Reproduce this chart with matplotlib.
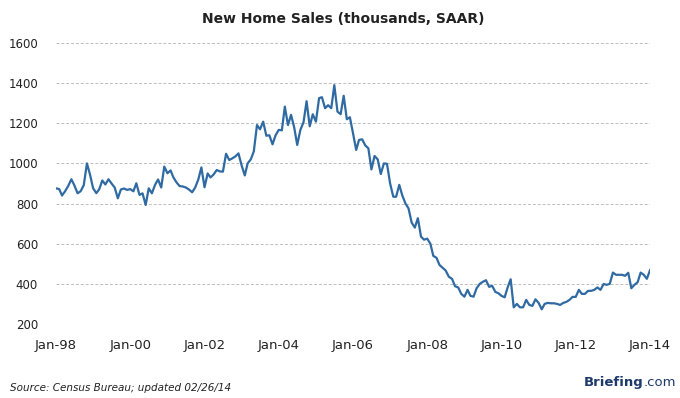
import numpy as np
import pandas as pd
import matplotlib
matplotlib.use('Agg')
import matplotlib.pyplot as plt

# new home sales, thousands SAAR, Jan-98 .. Jan-14
sales_1998 = [876, 872, 840, 862, 888, 921, 890, 851, 862, 892, 1000, 945]
sales_1999 = [876, 852, 870, 915, 895, 921, 900, 880, 826, 870, 875, 868]
sales_2000 = [872, 861, 901, 843, 851, 793, 876, 851, 893, 920, 880, 984]
sales_2001 = [951, 965, 930, 905, 887, 885, 880, 870, 856, 880, 920, 980]
sales_2002 = [881, 950, 930, 945, 967, 960, 959, 1048, 1017, 1025, 1035, 1050]
sales_2003 = [990, 940, 1000, 1020, 1060, 1191, 1170, 1208, 1138, 1140, 1095, 1140]
sales_2004 = [1167, 1165, 1283, 1191, 1242, 1180, 1092, 1167, 1205, 1310, 1185, 1245]
sales_2005 = [1208, 1325, 1330, 1275, 1290, 1275, 1390, 1258, 1245, 1337, 1220, 1230]
sales_2006 = [1150, 1067, 1117, 1120, 1090, 1075, 970, 1037, 1020, 947, 1000, 998]
sales_2007 = [900, 834, 834, 893, 840, 800, 776, 705, 680, 727, 635, 620]
sales_2008 = [625, 600, 539, 530, 494, 480, 466, 435, 425, 388, 382, 350]
sales_2009 = [336, 370, 340, 336, 378, 400, 410, 418, 385, 390, 360, 353]
sales_2010 = [340, 333, 380, 423, 283, 300, 283, 283, 320, 295, 290, 323]
sales_2011 = [305, 273, 300, 305, 303, 303, 300, 295, 305, 310, 320, 335]
sales_2012 = [335, 370, 350, 350, 365, 365, 370, 382, 370, 399, 395, 400]
sales_2013 = [456, 445, 445, 445, 440, 455, 378, 395, 408, 456, 445, 425]
sales_2014 = [468]

sales = (sales_1998 + sales_1999 + sales_2000 + sales_2001 + sales_2002 + sales_2003
         + sales_2004 + sales_2005 + sales_2006 + sales_2007 + sales_2008 + sales_2009
         + sales_2010 + sales_2011 + sales_2012 + sales_2013 + sales_2014)
months = pd.date_range('1998-01-01', periods=len(sales), freq='MS')

tick_dates = pd.date_range('1998-01-01', '2014-01-01', freq='24MS')
tick_labels = ['Jan-98', 'Jan-00', 'Jan-02', 'Jan-04', 'Jan-06', 'Jan-08', 'Jan-10', 'Jan-12', 'Jan-14']
y_ticks = [200, 400, 600, 800, 1000, 1200, 1400, 1600]

line_color = '#2f6aa3'
text_color = '#222222'
logo_color = '#1d3a6b'


def main():
    fig = plt.figure(figsize=(6.8, 3.98), dpi=100)
    ax = fig.add_axes([0.0824, 0.186, 0.8735, 0.706])

    for y in y_ticks:
        ax.axhline(y, color='#bdbdbd', lw=0.7, ls=(0, (3, 2)), zorder=1)
    ax.plot(months, sales, color=line_color, lw=1.6, zorder=3, solid_joinstyle='round')

    ax.set_xlim(months[0], months[-1])
    ax.set_ylim(200, 1600)
    ax.set_yticks(y_ticks)
    ax.set_yticklabels([str(v) for v in y_ticks], fontsize=8.5, color=text_color)
    ax.set_xticks(tick_dates)
    ax.set_xticklabels(tick_labels, fontsize=9.5, color=text_color)
    ax.tick_params(axis='y', length=0, pad=13)
    ax.tick_params(axis='x', length=0, pad=11)
    for s in ax.spines.values():
        s.set_visible(False)

    fig.text(0.505, 0.952, 'New Home Sales (thousands, SAAR)', ha='center', va='center',
             fontsize=10, fontweight='bold', color=text_color)
    fig.text(0.014, 0.025, 'Source: Census Bureau; updated 02/26/14', ha='left', va='center',
             fontsize=7.5, style='italic', color=text_color)
    # logo: bold "Briefing" followed by regular ".com"
    fig.text(0.946, 0.038, 'Briefing', ha='right', va='center', fontsize=9.5,
             fontweight='bold', color=logo_color)
    fig.text(0.946, 0.038, '.com', ha='left', va='center', fontsize=9.5, color=logo_color)

    fig.savefig('out.png', dpi=100)


if __name__ == '__main__':
    main()
